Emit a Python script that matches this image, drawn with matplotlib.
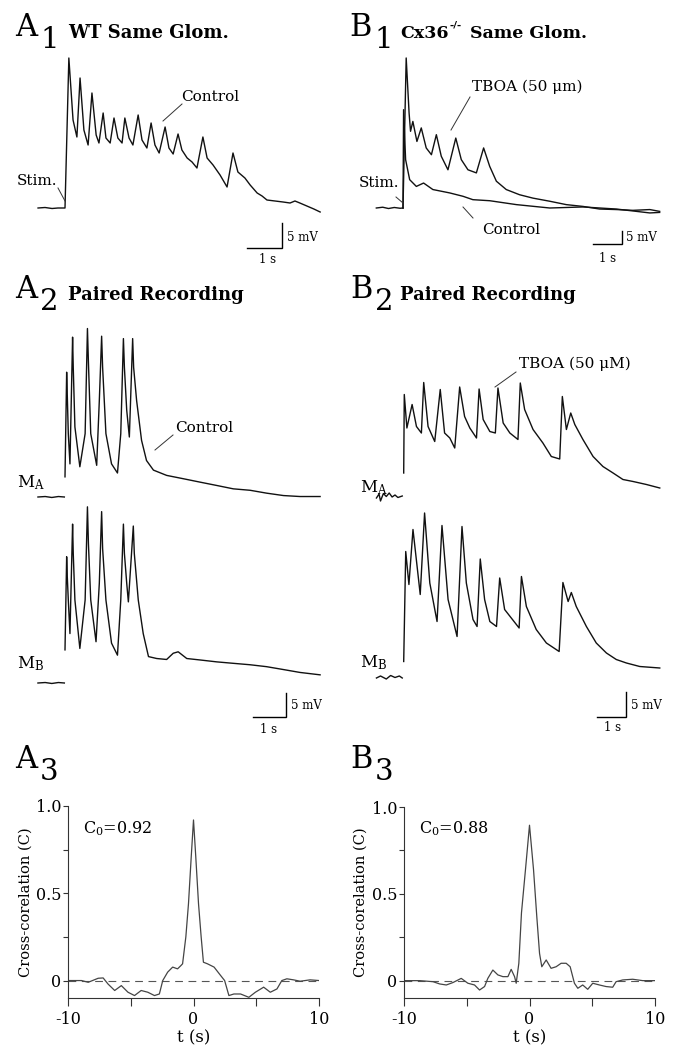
import numpy as np
import matplotlib.pyplot as plt
from matplotlib.lines import Line2D

plt.rcParams['font.family'] = ['DejaVu Serif']
plt.rcParams['mathtext.fontset'] = 'dejavuserif'
plt.rcParams['axes.unicode_minus'] = False

# --- A1: WT same glomerulus (t in s, v in mV) ---
a1_t = [-0.77, -0.57, -0.37, -0.2, 0, 0.11, 0.23, 0.34, 0.43, 0.54, 0.66, 0.77, 0.89, 0.97,
        1.09, 1.17, 1.29, 1.40, 1.51, 1.63, 1.71, 1.83, 1.94, 2.09, 2.20, 2.34, 2.46, 2.57,
        2.69, 2.86, 2.97, 3.09, 3.23, 3.34, 3.49, 3.63, 3.77, 3.94, 4.06, 4.23, 4.43, 4.63,
        4.80, 4.94, 5.14, 5.29, 5.49, 5.63, 5.77, 6.0, 6.23, 6.43, 6.57, 6.71, 6.91, 7.11, 7.29]
a1_v = [0, 0.1, -0.1, 0, 0, 30, 17.6, 14.2, 26, 15.6, 12.6, 23, 14.6, 13,
        19, 14, 13, 18, 14, 13, 18, 14, 12.6, 18.6, 13.6, 12, 17, 12.6,
        11, 16.2, 12, 10.8, 14.8, 11.6, 10, 9.2, 8, 14.2, 10, 8.6, 6.6, 4.2,
        11, 7.2, 6, 4.6, 3, 2.4, 1.6, 1.4, 1.2, 1.0, 1.4, 1.0, 0.4, -0.2, -0.8]

# --- B1: Cx36-/- same glomerulus ---
b1_pre_t = [-0.92, -0.7, -0.5, -0.3, -0.1, 0]
b1_pre_v = [0, 0.3, -0.2, 0.2, -0.1, 0]
b1_tboa_t = [0, 0.11, 0.21, 0.26, 0.34, 0.48, 0.63, 0.80, 0.98, 1.15, 1.32, 1.55, 1.82, 2.01,
             2.24, 2.53, 2.78, 2.99, 3.22, 3.56, 4.02, 4.48, 5.06, 5.63, 6.21, 6.78, 7.36,
             7.93, 8.51, 8.85]
b1_tboa_v = [0, 57.7, 36.5, 29.5, 33.3, 25.6, 30.8, 23.1, 20.5, 28.2, 19.9, 14.7, 26.9, 18.6,
             14.7, 13.5, 23.1, 16.0, 10.3, 7.1, 5.1, 3.8, 2.6, 1.3, 0.6, -0.4, -0.6,
             -0.9, -0.6, -1.3]
b1_ctrl_t = [0, 0.02, 0.09, 0.23, 0.46, 0.71, 1.03, 1.61, 2.07, 2.41, 2.99, 3.91, 5.06,
             6.21, 7.36, 8.51, 8.85]
b1_ctrl_v = [0, 37.8, 18.6, 10.9, 8.3, 9.6, 7.1, 5.8, 4.5, 3.2, 2.8, 1.3, 0,
             0.4, -0.4, -1.9, -1.7]

# --- A2: paired recording, WT ---
a2_pre_t = [-0.82, -0.6, -0.4, -0.2, -0.02]
a2_pre_v = [0, 0.1, -0.1, 0.1, 0]
a2_ma_t = [0, 0.05, 0.07, 0.10, 0.15, 0.23, 0.25, 0.30, 0.45, 0.61, 0.68, 0.71, 0.78, 0.96,
           1.04, 1.11, 1.14, 1.24, 1.41, 1.59, 1.69, 1.77, 1.80, 1.87, 1.95, 2.05, 2.08,
           2.17, 2.32, 2.47, 2.68, 3.08, 3.59, 4.09, 4.60, 5.10, 5.61, 6.11, 6.62, 7.12, 7.73]
a2_ma_v = [4.2, 26.0, 21.0, 13.2, 6.9, 33.3, 27.0, 14.6, 6.3, 13.2, 35.1, 28.0, 13.2, 6.6,
           20.1, 33.5, 27.0, 13.2, 6.9, 5.0, 13.2, 33.0, 27.0, 18.1, 12.5, 33.0, 27.0,
           20.1, 11.8, 7.6, 5.6, 4.5, 3.8, 3.1, 2.4, 1.7, 1.4, 0.8, 0.3, 0.1, 0.1]
a2_mb_t = [0, 0.05, 0.07, 0.10, 0.15, 0.23, 0.25, 0.30, 0.45, 0.61, 0.68, 0.71, 0.78, 0.94,
           1.04, 1.11, 1.14, 1.24, 1.41, 1.59, 1.69, 1.77, 1.80, 1.87, 1.92, 2.07, 2.10,
           2.22, 2.37, 2.53, 2.78, 3.08, 3.28, 3.43, 3.69, 4.09, 4.60, 5.10, 5.61, 6.11,
           6.62, 7.12, 7.73]
a2_mb_v = [6.9, 26.3, 22.0, 17.3, 10.3, 33.1, 27.0, 17.3, 7.2, 17.3, 36.7, 29.0, 17.3, 8.6,
           20.8, 35.7, 28.0, 17.3, 8.3, 5.8, 17.3, 33.1, 27.0, 20.8, 16.9, 32.7, 27.0,
           17.3, 10.3, 5.5, 5.1, 4.9, 6.2, 6.5, 5.1, 4.8, 4.4, 4.1, 3.8, 3.4,
           2.8, 2.2, 1.7]

# --- B2: paired recording, Cx36-/- + TBOA ---
b2_ma_pre_t = [-0.94, -0.85, -0.8, -0.7, -0.6, -0.5, -0.4, -0.3, -0.2, -0.05]
b2_ma_pre_v = [0, 0.8, -0.6, 0.9, 0.3, 1.0, 0.2, 0.6, 0.1, 0.4]
b2_mb_pre_t = [-0.94, -0.8, -0.6, -0.45, -0.3, -0.15, -0.05]
b2_mb_pre_v = [0, 0.4, -0.2, 0.5, 0.1, 0.4, 0]
b2_ma_t = [0, 0.02, 0.11, 0.29, 0.44, 0.61, 0.69, 0.84, 1.07, 1.26, 1.41, 1.59, 1.76, 1.93,
           2.10, 2.28, 2.51, 2.60, 2.74, 2.97, 3.16, 3.25, 3.43, 3.66, 3.94, 4.02, 4.17,
           4.46, 4.80, 5.09, 5.38, 5.47, 5.61, 5.76, 5.90, 6.18, 6.53, 6.87, 7.22, 7.56,
           7.91, 8.37, 8.83]
b2_ma_v = [5.0, 20.7, 14.0, 18.7, 14.3, 13.0, 23.1, 14.3, 11.3, 21.7, 13.0, 12.0, 10.0, 22.2,
           16.3, 14.0, 12.0, 21.8, 15.7, 13.3, 13.0, 22.0, 15.0, 13.0, 11.7, 23.0, 17.7,
           13.7, 11.0, 8.3, 7.8, 20.3, 13.7, 17.0, 14.7, 11.7, 8.3, 6.3, 5.0, 3.7,
           3.3, 2.7, 2.0]
b2_mb_t = [0, 0.07, 0.18, 0.32, 0.57, 0.72, 0.90, 1.15, 1.32, 1.53, 1.84, 2.01, 2.16, 2.39,
           2.53, 2.64, 2.79, 2.97, 3.20, 3.31, 3.48, 3.98, 4.06, 4.23, 4.57, 4.92, 5.36,
           5.49, 5.67, 5.78, 5.95, 6.30, 6.64, 6.99, 7.33, 7.68, 8.14, 8.83]
b2_mb_v = [3.3, 25.3, 18.7, 29.7, 16.7, 33.0, 19.0, 11.3, 30.5, 15.7, 8.3, 30.3, 19.0, 11.7,
           10.3, 23.8, 15.7, 11.3, 10.3, 20.0, 13.7, 10.0, 20.3, 14.3, 9.7, 7.0, 5.3,
           19.1, 15.3, 17.1, 14.3, 10.3, 7.0, 5.0, 3.7, 3.0, 2.3, 2.0]

# --- A3 / B3: cross-correlation ---
a3_t = [-10, -8.92, -8.39, -7.6, -7.2, -6.81, -6.28, -5.75, -5.22, -4.70, -4.17, -3.64, -3.11,
        -2.72, -2.45, -2.06, -1.66, -1.27, -1.00, -0.87, -0.61, -0.40, -0.18, 0, 0.18, 0.40,
        0.61, 0.79, 1.11, 1.64, 2.16, 2.48, 2.82, 3.22, 3.75, 4.41, 4.93, 5.59, 6.12, 6.65,
        7.04, 7.44, 7.97, 8.50, 9.29, 10]
a3_c = [0, 0, -0.01, 0.013, 0.015, -0.02, -0.057, -0.029, -0.067, -0.086, -0.057, -0.067, -0.086,
        -0.077, 0, 0.048, 0.077, 0.067, 0.086, 0.096, 0.25, 0.44, 0.71, 0.92, 0.71, 0.44,
        0.25, 0.105, 0.096, 0.077, 0.029, 0, -0.086, -0.077, -0.077, -0.096, -0.067, -0.038,
        -0.067, -0.048, 0, 0.01, 0.004, -0.004, 0.004, 0]
b3_t = [-10, -8.75, -7.69, -7.16, -6.63, -6.10, -5.44, -4.91, -4.38, -3.98, -3.58, -3.32, -2.92,
        -2.52, -2.12, -1.72, -1.46, -1.19, -1.06, -0.85, -0.64, -0.32, 0, 0.32, 0.58, 0.80,
        0.98, 1.33, 1.72, 2.12, 2.52, 2.92, 3.24, 3.58, 3.85, 4.24, 4.64, 5.04, 5.57, 6.10,
        6.63, 6.90, 7.43, 8.22, 9.02, 10]
b3_c = [0, 0, -0.006, -0.019, -0.025, -0.011, 0.013, -0.015, -0.025, -0.054, -0.034, 0.013,
        0.061, 0.033, 0.023, 0.023, 0.065, 0.023, -0.015, 0.10, 0.39, 0.64, 0.895, 0.64, 0.37,
        0.157, 0.08, 0.119, 0.071, 0.08, 0.10, 0.10, 0.08, -0.015, -0.044, -0.025, -0.05,
        -0.015, -0.025, -0.034, -0.038, -0.006, 0.004, 0.008, 0, 0]

W, H = 673, 1049
fig = plt.figure(figsize=(W / 100, H / 100), dpi=100)


def px_axes(l, t, r, b):
    return fig.add_axes([l / W, 1 - b / H, (r - l) / W, (b - t) / H])


def trace_axes(l, t, r, b, x0, y0, pps, ppmv):
    # axes whose data units are s and mV, placed in pixel space
    ax = px_axes(l, t, r, b)
    ax.set_xlim((l - x0) / pps, (r - x0) / pps)
    ax.set_ylim((y0 - b) / ppmv, (y0 - t) / ppmv)
    ax.axis('off')
    return ax


def ftext(x, y, s, **kw):
    fig.text(x / W, 1 - y / H, s, **kw)


def leader(x1, y1, x2, y2):
    fig.add_artist(Line2D([x1 / W, x2 / W], [1 - y1 / H, 1 - y2 / H], color='#333', lw=0.7))


def scalebar(ax, t, v):
    ax.plot([t - 1, t, t], [v, v, v + 5], color='k', lw=1.0, solid_joinstyle='miter')


def header(x, y, letter, sub, title=None, tx=None):
    ftext(x, y, letter, fontsize=22, va='baseline')
    ftext(x + 25, y + 12, sub, fontsize=21, va='baseline')
    if title:
        ftext(tx, y + 2, title, fontsize=13, fontweight='bold', va='baseline')


tr = dict(color='#111', lw=1.0)

# A1
header(15, 36, 'A', '1', 'WT Same Glom.', 68)
ax = trace_axes(30, 50, 330, 270, 65, 208, 35, 5)
ax.plot(a1_t, a1_v, **tr)
scalebar(ax, 6.2, -8)
ftext(210, 101, 'Control', fontsize=11, ha='center', va='baseline')
leader(182, 104, 163, 121)
ftext(37, 185, 'Stim.', fontsize=11, ha='center', va='baseline')
leader(58, 188, 65, 201)
ftext(287, 241, '5 mV', fontsize=8.5, va='baseline')
ftext(268, 263, '1 s', fontsize=8.5, ha='center', va='baseline')

# B1
header(349, 36, 'B', '1')
ftext(400, 38, 'Cx36', fontsize=12.5, fontweight='bold', va='baseline')
ftext(450, 28, '-/-', fontsize=7.5, fontweight='bold', va='baseline')
ftext(470, 38, 'Same Glom.', fontsize=12.5, fontweight='bold', va='baseline')
ax = trace_axes(360, 50, 670, 270, 403, 208, 29, 2.6)
ax.plot(b1_pre_t, b1_pre_v, **tr)
ax.plot(b1_ctrl_t, b1_ctrl_v, **tr)
ax.plot(b1_tboa_t, b1_tboa_v, **tr)
scalebar(ax, 7.55, -13.8)
ftext(527, 91, 'TBOA (50 μm)', fontsize=11, ha='center', va='baseline')
leader(470, 97, 451, 130)
ftext(379, 187, 'Stim.', fontsize=11, ha='center', va='baseline')
leader(396, 197, 403, 203)
ftext(511, 234, 'Control', fontsize=11, ha='center', va='baseline')
leader(463, 207, 473, 218)
ftext(626, 241, '5 mV', fontsize=8.5, va='baseline')
ftext(608, 262, '1 s', fontsize=8.5, ha='center', va='baseline')

# A2
header(15, 298, 'A', '2', 'Paired Recording', 68)
ax = trace_axes(30, 320, 330, 505, 65, 497, 33, 4.8)
ax.plot(a2_pre_t, a2_pre_v, **tr)
ax.plot(a2_ma_t, a2_ma_v, **tr)
ax = trace_axes(30, 505, 330, 740, 65, 683, 33, 4.8)
ax.plot(a2_pre_t, a2_pre_v, **tr)
ax.plot(a2_mb_t, a2_mb_v, **tr)
scalebar(ax, 6.7, -7.1)
ftext(17, 487, r'M$_\mathregular{A}$', fontsize=12, va='baseline')
ftext(17, 668, r'M$_\mathregular{B}$', fontsize=12, va='baseline')
ftext(204, 432, 'Control', fontsize=11, ha='center', va='baseline')
leader(173, 435, 155, 450)
ftext(291, 709, '5 mV', fontsize=8.5, va='baseline')
ftext(269, 733, '1 s', fontsize=8.5, ha='center', va='baseline')

# B2
header(350, 298, 'B', '2', 'Paired Recording', 400)
ax = trace_axes(360, 320, 670, 505, 403.7, 498, 29, 5)
ax.plot(b2_ma_pre_t, b2_ma_pre_v, **tr)
ax.plot(b2_ma_t, b2_ma_v, **tr)
ax = trace_axes(360, 505, 670, 740, 403.7, 678, 29, 5)
ax.plot(b2_mb_pre_t, b2_mb_pre_v, **tr)
ax.plot(b2_mb_t, b2_mb_v, **tr)
scalebar(ax, 7.67, -7.8)
ftext(360, 492, r'M$_\mathregular{A}$', fontsize=12, va='baseline')
ftext(360, 667, r'M$_\mathregular{B}$', fontsize=12, va='baseline')
ftext(575, 368, 'TBOA (50 μM)', fontsize=11, ha='center', va='baseline')
leader(516, 372, 495, 387)
ftext(631, 709, '5 mV', fontsize=8.5, va='baseline')
ftext(613, 731, '1 s', fontsize=8.5, ha='center', va='baseline')


# A3 / B3
def cc_axes(l, r, t, b, lags, cc, c0, ylab_x):
    ax = px_axes(l, t, r, b)
    ax.set_xlim(-10, 10)
    ax.set_ylim(-0.1, 1.0)
    for s in ['top', 'right']:
        ax.spines[s].set_visible(False)
    for s in ['left', 'bottom']:
        ax.spines[s].set_color('#333')
        ax.spines[s].set_linewidth(0.8)
    ax.set_xticks([-10, 0, 10])
    ax.set_xticklabels(['-10', '0', '10'])
    ax.set_xticks([-5, 5], minor=True)
    ax.set_yticks([0, 0.5, 1.0])
    ax.set_yticklabels(['0', '0.5', '1.0'])
    ax.set_yticks([0.25, 0.75], minor=True)
    ax.tick_params(axis='x', which='both', direction='out', length=6, width=0.8,
                   color='#333', labelsize=11.5, pad=3)
    ax.tick_params(axis='y', which='both', direction='out', length=3.5, width=0.8,
                   color='#333', labelsize=11.5, pad=1.5)
    ax.axhline(0, ls=(0, (7, 5)), color='#555', lw=0.8)
    ax.plot(lags, cc, color='#444', lw=0.9)
    ax.set_xlabel('t (s)', fontsize=12, labelpad=1)
    ax.text(0.06, 0.86, c0, transform=ax.transAxes, fontsize=11.5, va='baseline')
    ftext(ylab_x, (t + b) / 2, 'Cross-corelation (C)', fontsize=10.5, rotation=90,
          ha='center', va='center')
    return ax


header(15, 768, 'A', '3')
cc_axes(68, 319, 806, 998, a3_t, a3_c, r'C$_0$=0.92', 26)
header(350, 768, 'B', '3')
cc_axes(404, 655, 807, 998, b3_t, b3_c, r'C$_0$=0.88', 361)

fig.savefig('out.png', dpi=100)
